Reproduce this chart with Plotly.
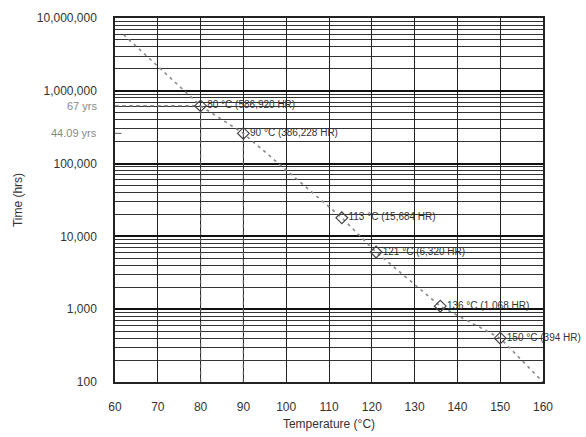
import math
import plotly.graph_objects as go

# Data
curve_x = [62, 80, 90, 113, 121, 136, 150, 160]
curve_y = [5.9e6, 6.2e5, 2.6e5, 1.8e4, 6.1e3, 1.1e3, 4.0e2, 1.0e2]

point_x = [80, 90, 113, 121, 136, 150]
point_y = [6.2e5, 2.6e5, 1.8e4, 6.1e3, 1.1e3, 4.0e2]
point_labels = ["80 \u00b0C (586,920 HR)", "90 \u00b0C (386,228 HR)", "113 \u00b0C (15,684 HR)",
                "121 \u00b0C (6,320 HR)", "136 \u00b0C (1,068 HR)", "150 \u00b0C (394 HR)"]

year_labels = ["67 yrs", "44.09 yrs"]
year_values = [6.2e5, 2.6e5]

y_tickvals = [100, 1000, 10000, 100000, 1000000, 10000000]
y_ticktext = ["100", "1,000", "10,000", "100,000", "1,000,000", "10,000,000"]
x_tickvals = [60, 70, 80, 90, 100, 110, 120, 130, 140, 150, 160]

X_MIN, X_MAX = 60, 160
Y_MIN, Y_MAX = 100, 10000000

FONT = "Liberation Sans, Arial"

fig = go.Figure()

# guide lines (vertical from the 80 and 90 points to the bottom, horizontal for 67 yrs)
for px, py in zip(point_x[:2], point_y[:2]):
    fig.add_trace(go.Scatter(x=[px, px], y=[Y_MIN, py], mode="lines",
                             line=dict(color="#555", width=1.2, dash="4px,3px"),
                             hoverinfo="skip", showlegend=False))
fig.add_trace(go.Scatter(x=[X_MIN, point_x[0]], y=[year_values[0], year_values[0]], mode="lines",
                         line=dict(color="#777", width=1.2, dash="4px,3px"),
                         hoverinfo="skip", showlegend=False))
fig.add_trace(go.Scatter(x=[X_MIN, X_MIN + 1.5], y=[year_values[1], year_values[1]], mode="lines",
                         line=dict(color="#777", width=1.2),
                         hoverinfo="skip", showlegend=False))

# the dashed life curve
fig.add_trace(go.Scatter(x=curve_x, y=curve_y, mode="lines",
                         line=dict(color="#888", width=1.6, dash="3px,4px"),
                         showlegend=False))

# points with labels
fig.add_trace(go.Scatter(x=point_x, y=point_y, mode="markers+text",
                         marker=dict(symbol="diamond-open", size=9, color="#444",
                                     line=dict(width=1.2, color="#444")),
                         text=point_labels, textposition="middle right",
                         textfont=dict(family=FONT, size=10, color="#333"),
                         showlegend=False, cliponaxis=False))

# year labels on the left
for lbl, v in zip(year_labels, year_values):
    fig.add_annotation(x=0, xref="paper", y=math.log10(v), yref="y", text=lbl, showarrow=False,
                       xanchor="right", xshift=-16, yanchor="middle",
                       font=dict(family=FONT, size=11, color="#888"))

fig.update_xaxes(range=[X_MIN, X_MAX], tickvals=x_tickvals, showgrid=True,
                 gridcolor="#222", gridwidth=1, zeroline=False, automargin=False,
                 showline=True, linecolor="#222", linewidth=1.5, mirror=True,
                 ticks="", ticklabelstandoff=13,
                 tickfont=dict(family=FONT, size=12, color="#333"),
                 title=dict(text="Temperature (\u00b0C)", font=dict(family=FONT, size=12, color="#333"),
                            standoff=6))
fig.update_yaxes(type="log", range=[2, 7], tickvals=y_tickvals, ticktext=y_ticktext,
                 showgrid=True, gridcolor="#111", gridwidth=2.2, zeroline=False, automargin=False,
                 showline=True, linecolor="#222", linewidth=1.5, mirror=True,
                 ticks="", ticklabelstandoff=14,
                 minor=dict(showgrid=True, gridcolor="#333", gridwidth=1, dtick="D1"),
                 tickfont=dict(family=FONT, size=12, color="#333"),
                 title=dict(text="Time (hrs)", font=dict(family=FONT, size=12, color="#333"),
                            standoff=12))

fig.update_layout(width=586, height=437, margin=dict(l=115, r=43, t=18, b=55),
                  plot_bgcolor="white", paper_bgcolor="white")

fig.write_html("out.html", config={"displayModeBar": False})

# remove the browser's default page margin so the figure sits at (0,0)
with open("out.html", "r", encoding="utf-8") as f:
    html = f.read()
html = html.replace("<body>", '<body style="margin:0">', 1)
with open("out.html", "w", encoding="utf-8") as f:
    f.write(html)
